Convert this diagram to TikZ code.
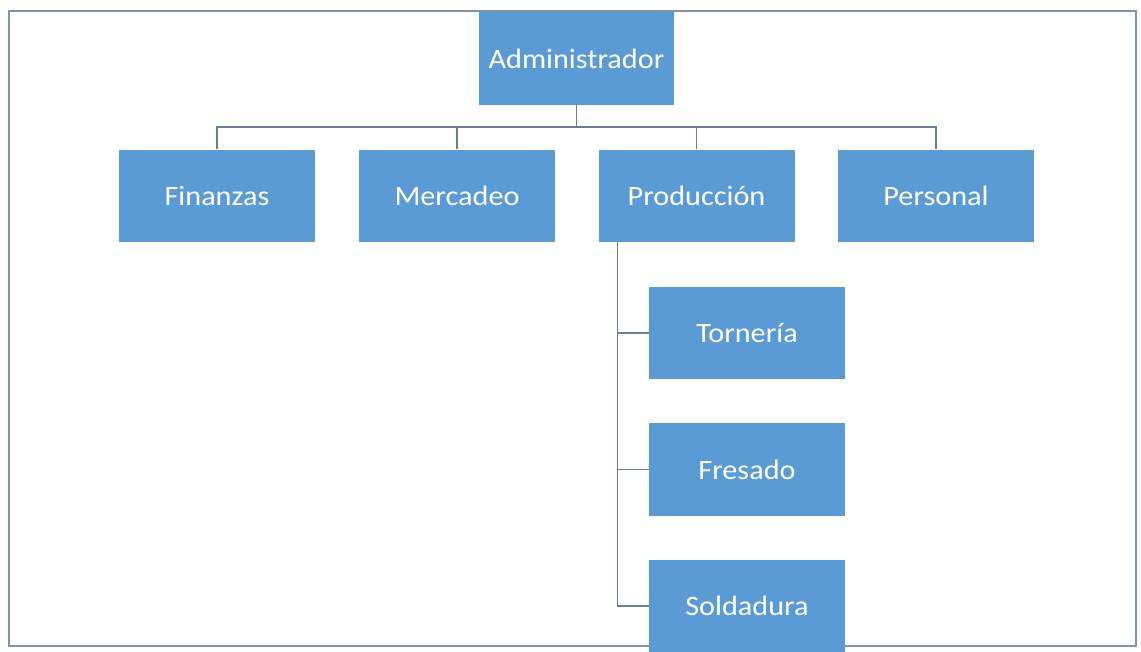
\documentclass[tikz,border=0pt]{standalone}
\usepackage{fontspec}
\newfontfamily\boxfont[FakeStretch=1.08]{Carlito}
\definecolor{boxblue}{HTML}{5B9BD5}
\definecolor{linecol}{HTML}{6A7F96}
\definecolor{framecol}{HTML}{8094AA}
\tikzset{
  orgbox/.style={draw=none, fill=boxblue, text=white, font=\boxfont\fontsize{28}{30}\selectfont,
    minimum width=196pt, minimum height=92pt, inner sep=0pt, anchor=center},
  conn/.style={draw=linecol, line width=1.6pt},
}
\begin{document}
\begin{tikzpicture}[x=1pt, y=-1pt]
\useasboundingbox (0,0) rectangle (1141,651);
\clip (0,0) rectangle (1141,651);
\fill[white] (0,0) rectangle (1141,651);
\draw[framecol, line width=1.8pt] (9,11) rectangle (1136,646);
\coordinate (bus) at (0,127);
\node[orgbox, minimum width=195pt, minimum height=93pt] (admin) at (576.5,58.5) {Administrador};
\node[orgbox] (fin) at (217,195.5) {Finanzas};
\node[orgbox] (merc) at (457,195.5) {Mercadeo};
\node[orgbox] (prod) at (696.5,195.5) {Producción};
\node[orgbox] (pers) at (936,195.5) {Personal};
\node[orgbox] (torn) at (747,333) {Tornería};
\node[orgbox, minimum height=93pt] (fres) at (747,469.5) {Fresado};
\node[orgbox] (sold) at (747,606) {Soldadura};
\coordinate (trunk) at ([xshift=19pt]prod.south west);
\draw[conn] (admin.south) -- (admin.south |- bus);
\draw[conn] (fin.north) -- (fin.north |- bus) -- (pers.north |- bus) -- (pers.north);
\draw[conn] (merc.north) -- (merc.north |- bus);
\draw[conn] (prod.north) -- (prod.north |- bus);
\draw[conn] (trunk) |- (sold.west);
\draw[conn] (trunk |- torn.west) -- (torn.west);
\draw[conn] (trunk |- fres.west) -- (fres.west);
\end{tikzpicture}
\end{document}
